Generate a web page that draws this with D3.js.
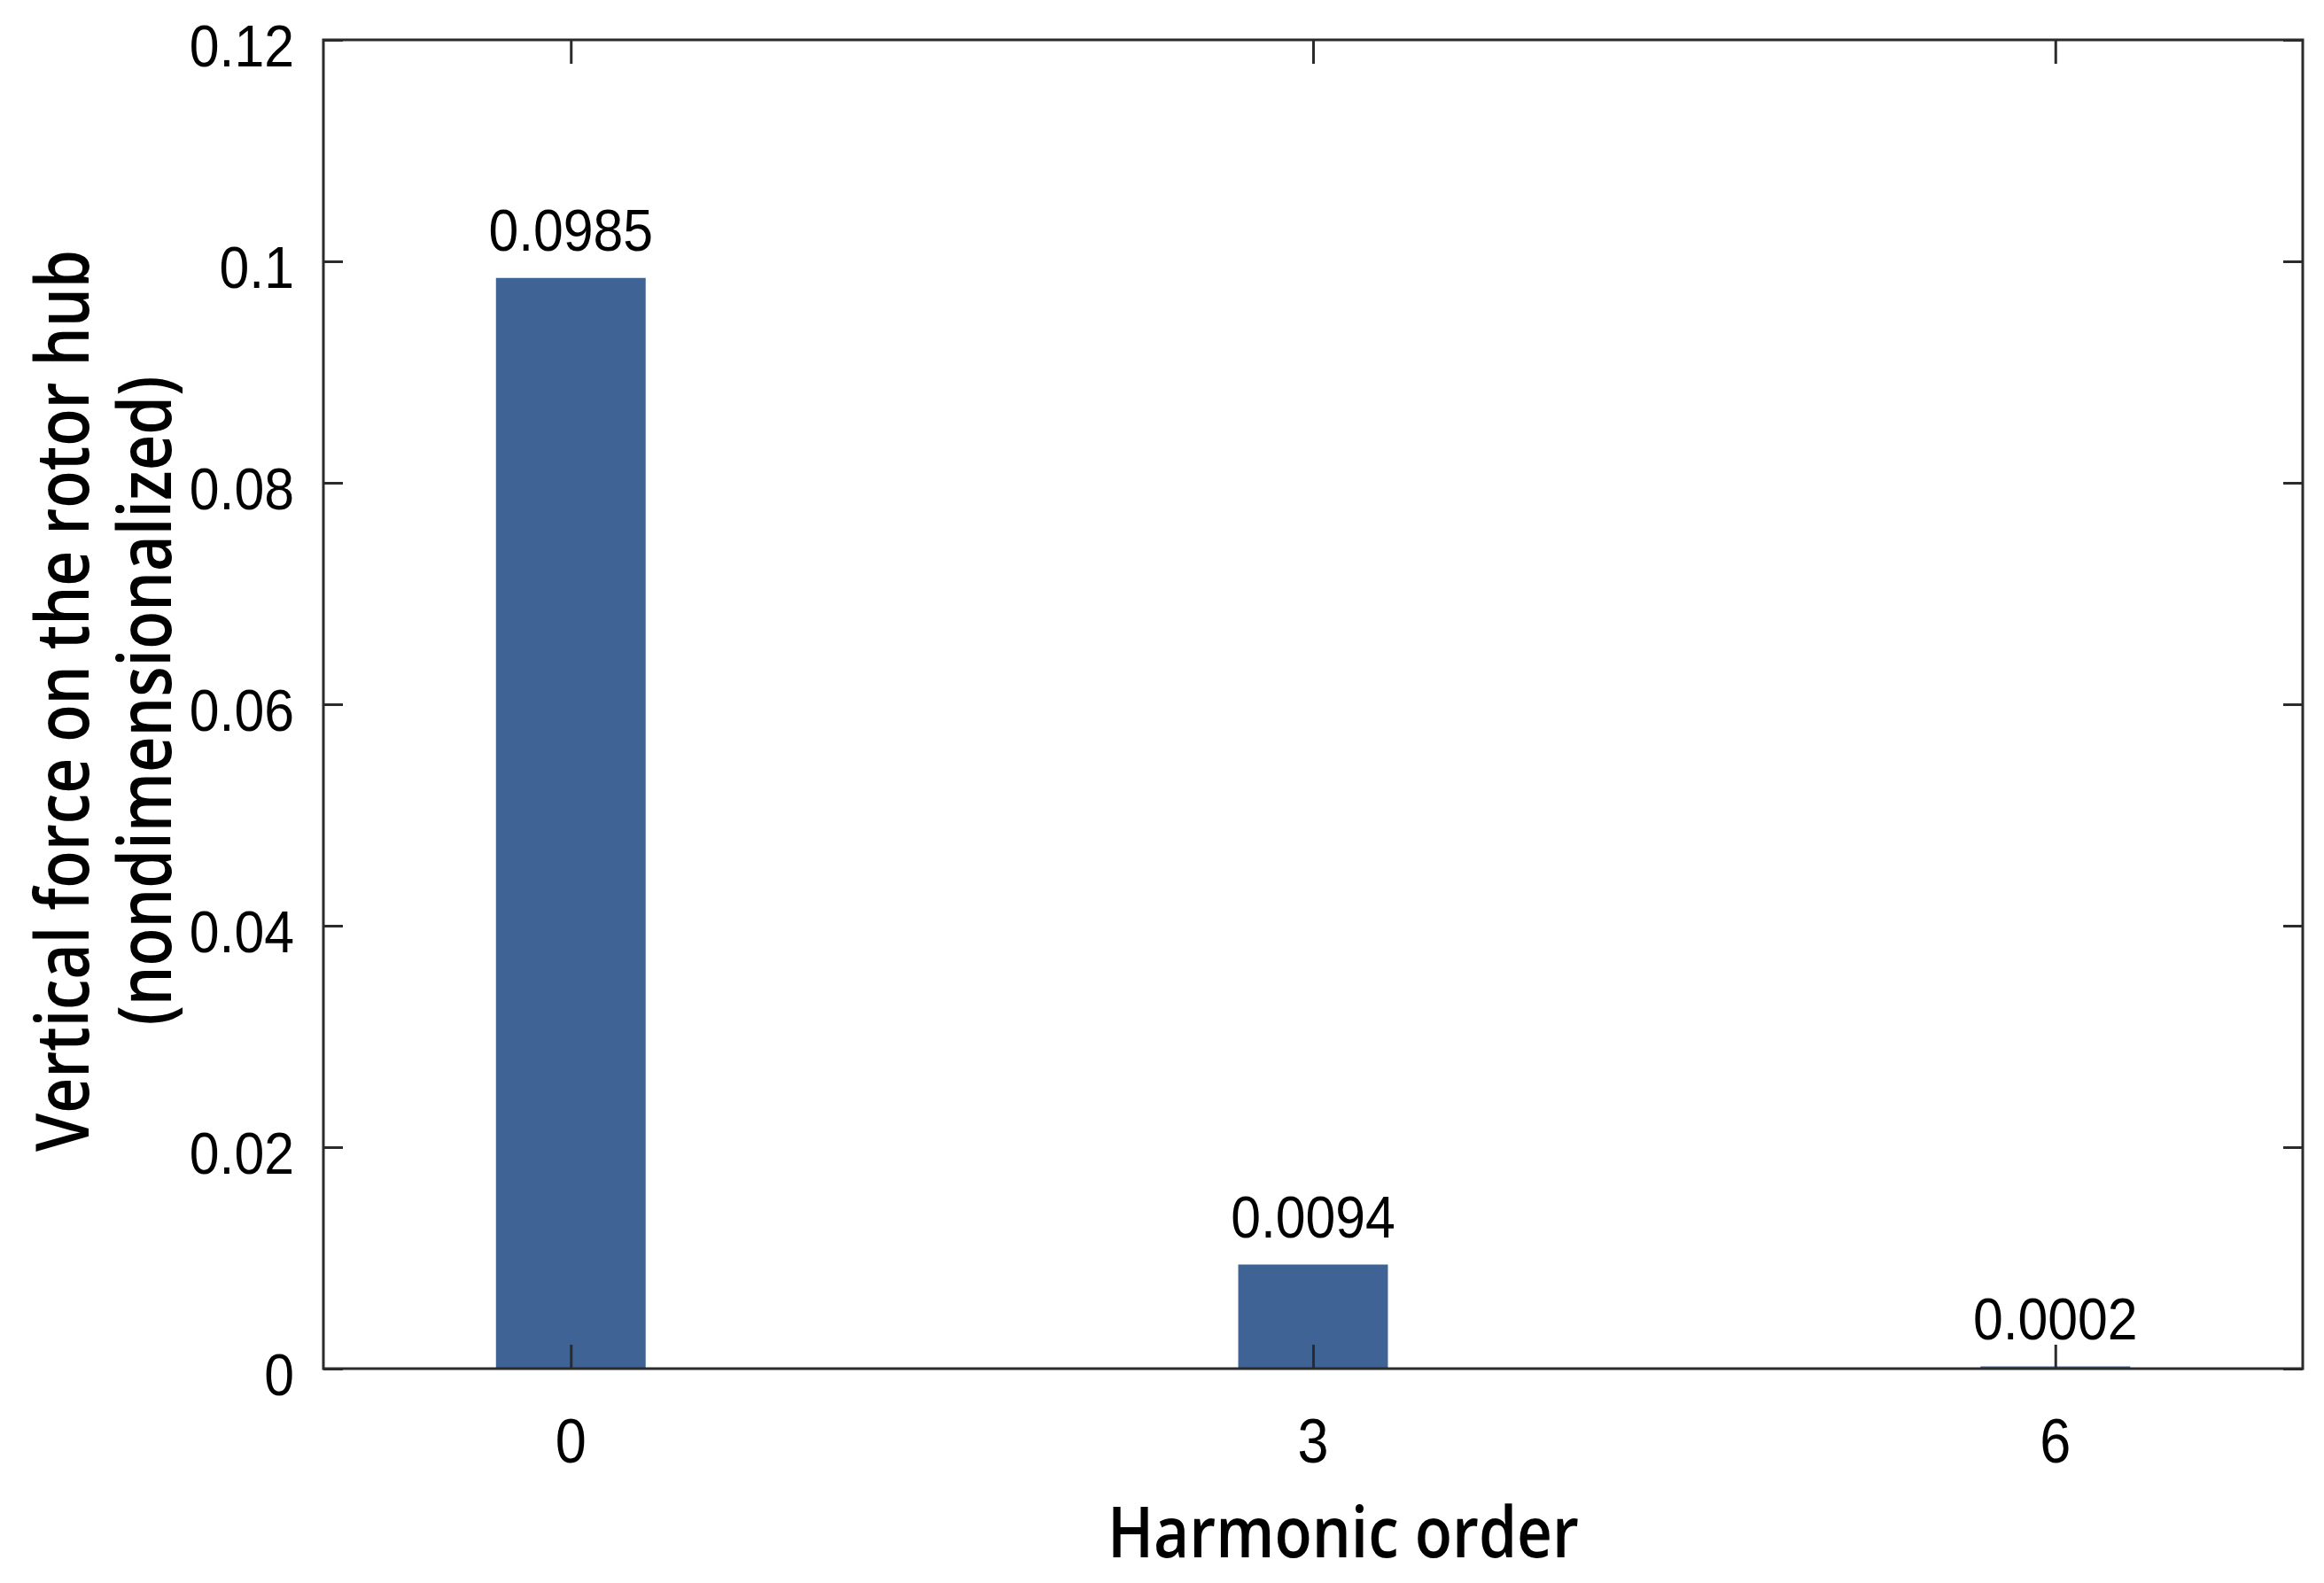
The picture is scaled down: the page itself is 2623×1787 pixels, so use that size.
<!DOCTYPE html>
<html>
<head>
<meta charset="utf-8">
<script src="https://cdn.jsdelivr.net/npm/d3@7"></script>
<style>
  html, body { margin: 0; padding: 0; background: #ffffff; }
  svg { display: block; }
</style>
</head>
<body>
<svg id="chart" width="2623" height="1787"></svg>
<script>
// ---- data ----
const harmonicOrders = [0, 3, 6];
const forceValues = [0.0985, 0.0094, 0.0002];
const valueLabels = ["0.0985", "0.0094", "0.0002"];
const yTickValues = [0, 0.02, 0.04, 0.06, 0.08, 0.1, 0.12];
const yTickLabels = ["0", "0.02", "0.04", "0.06", "0.08", "0.1", "0.12"];
const xTickValues = [0, 3, 6];
const xTickLabels = ["0", "3", "6"];
const xTitle = "Harmonic order";
const yTitleLines = ["Vertical force on the rotor hub", "(nondimensionalized)"];

// ---- layout / style ----
const W = 2623, H = 1787;
const plot = { left: 365, right: 2599, top: 45, bottom: 1545 };
const barWidthUnits = 0.605;
const barColor = "#3f6394";
const axisColor = "#2b2b2b";
const tickFont = "'Liberation Sans', Arial, sans-serif";
const titleFont = "'Open Sans', 'Noto Sans', sans-serif";

const svg = d3.select("#chart");

const x = d3.scaleLinear().domain([-1, 7]).range([plot.left, plot.right]);
const y = d3.scaleLinear().domain([0, 0.12]).range([plot.bottom, plot.top]);

function squeeze(sel, factor) {
  sel.each(function () {
    const len = this.getComputedTextLength();
    d3.select(this).attr("textLength", len * factor).attr("lengthAdjust", "spacingAndGlyphs");
  });
}

// bars
const data = harmonicOrders.map((h, i) => ({ h, v: forceValues[i], label: valueLabels[i] }));
const bw = x(barWidthUnits) - x(0);
svg.append("g").selectAll("rect").data(data).join("rect")
  .attr("x", d => x(d.h) - bw / 2)
  .attr("width", bw)
  .attr("y", d => y(d.v))
  .attr("height", d => y(0) - y(d.v))
  .attr("fill", barColor);

// value labels
svg.append("g").selectAll("text").data(data).join("text")
  .attr("x", d => x(d.h))
  .attr("y", d => y(d.v) - 31)
  .attr("text-anchor", "middle")
  .attr("font-family", tickFont)
  .attr("font-size", 66)
  .attr("fill", "#000")
  .text(d => d.label)
  .call(squeeze, 0.92);

// axes with inward ticks (left/right/top/bottom)
const yLeft = d3.axisLeft(y).tickValues(yTickValues).tickSize(-22).tickFormat("");
const yRight = d3.axisRight(y).tickValues(yTickValues).tickSize(-22).tickFormat("");
const xBottom = d3.axisBottom(x).tickValues(xTickValues).tickSize(-27).tickFormat("");
const xTop = d3.axisTop(x).tickValues(xTickValues).tickSize(-27).tickFormat("");

function styleAxis(g) {
  g.selectAll("path.domain").remove();
  g.selectAll(".tick line").attr("stroke", axisColor).attr("stroke-width", 3);
}
svg.append("g").attr("transform", `translate(${plot.left},0)`).call(yLeft).call(styleAxis);
svg.append("g").attr("transform", `translate(${plot.right},0)`).call(yRight).call(styleAxis);
svg.append("g").attr("transform", `translate(0,${plot.bottom})`).call(xBottom).call(styleAxis);
svg.append("g").attr("transform", `translate(0,${plot.top})`).call(xTop).call(styleAxis);

// frame
svg.append("rect")
  .attr("x", plot.left).attr("y", plot.top)
  .attr("width", plot.right - plot.left).attr("height", plot.bottom - plot.top)
  .attr("fill", "none").attr("stroke", axisColor).attr("stroke-width", 3);

// y tick labels
svg.append("g").selectAll("text").data(yTickValues).join("text")
  .attr("x", plot.left - 33)
  .attr("y", d => y(d) + 30)
  .attr("text-anchor", "end")
  .attr("font-family", tickFont)
  .attr("font-size", 66)
  .attr("fill", "#000")
  .text((d, i) => yTickLabels[i])
  .call(squeeze, 0.92);

// x tick labels
svg.append("g").selectAll("text").data(xTickValues).join("text")
  .attr("x", d => x(d))
  .attr("y", plot.bottom + 106)
  .attr("text-anchor", "middle")
  .attr("font-family", tickFont)
  .attr("font-size", 70)
  .attr("fill", "#000")
  .text((d, i) => xTickLabels[i])
  .call(squeeze, 0.9);

// x title
svg.append("text")
  .attr("x", 1516)
  .attr("y", 1758)
  .attr("text-anchor", "middle")
  .attr("font-family", titleFont)
  .attr("font-weight", 600)
  .attr("font-size", 80)
  .attr("fill", "#000")
  .attr("textLength", 532)
  .attr("lengthAdjust", "spacingAndGlyphs")
  .text(xTitle);

// y title (two lines, rotated)
const yTitleG = svg.append("g").attr("transform", "translate(0,791) rotate(-90)");
const yLineBaselines = [100, 193];
const yLineLengths = [1018, 733];
yTitleG.selectAll("text").data(yTitleLines).join("text")
  .attr("x", 0)
  .attr("y", (d, i) => yLineBaselines[i])
  .attr("text-anchor", "middle")
  .attr("font-family", titleFont)
  .attr("font-weight", 600)
  .attr("font-size", 84)
  .attr("fill", "#000")
  .attr("textLength", (d, i) => yLineLengths[i])
  .attr("lengthAdjust", "spacingAndGlyphs")
  .text(d => d);
</script>
</body>
</html>
